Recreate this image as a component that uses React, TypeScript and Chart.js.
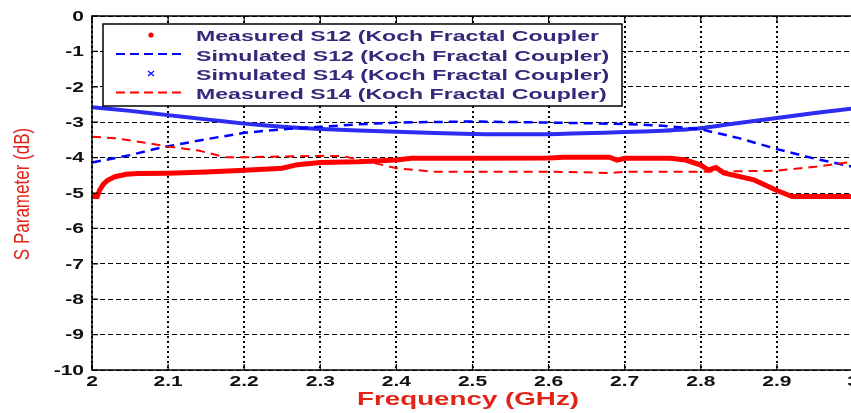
import React, { useEffect, useRef } from 'react';
import { Chart, registerables } from 'chart.js';

Chart.register(...registerables);

// ---------- data ----------
const xTicks = [2, 2.1, 2.2, 2.3, 2.4, 2.5, 2.6, 2.7, 2.8, 2.9, 3];
const xTickLabels = ['2', '2.1', '2.2', '2.3', '2.4', '2.5', '2.6', '2.7', '2.8', '2.9', '3'];
const yTicks = [0, -1, -2, -3, -4, -5, -6, -7, -8, -9, -10];
const yTickLabels = ['0', '-1', '-2', '-3', '-4', '-5', '-6', '-7', '-8', '-9', '-10'];

const measS12Freq = [2.0, 2.007, 2.01, 2.015, 2.02, 2.03, 2.045, 2.06, 2.1, 2.15, 2.2, 2.25, 2.27, 2.3, 2.35, 2.4, 2.42, 2.5, 2.6, 2.62, 2.68, 2.69, 2.7, 2.76, 2.78, 2.8, 2.81, 2.82, 2.83, 2.87, 2.9, 2.92, 3.0];
const measS12Db = [-5.1, -5.1, -4.92, -4.75, -4.65, -4.54, -4.47, -4.45, -4.44, -4.41, -4.36, -4.3, -4.2, -4.14, -4.12, -4.07, -4.02, -4.02, -4.01, -3.99, -3.99, -4.07, -4.02, -4.02, -4.07, -4.21, -4.35, -4.28, -4.43, -4.63, -4.93, -5.1, -5.1];

const simS12Freq = [2.0, 2.05, 2.09, 2.15, 2.2, 2.25, 2.3, 2.35, 2.4, 2.5, 2.6, 2.7, 2.75, 2.8, 2.85, 2.9, 2.95, 3.0];
const simS12Db = [-4.14, -3.93, -3.72, -3.48, -3.3, -3.2, -3.13, -3.06, -3.01, -2.98, -3.01, -3.05, -3.1, -3.2, -3.45, -3.76, -4.03, -4.26];

const simS14Freq = [2.0, 2.05, 2.1, 2.15, 2.2, 2.25, 2.3, 2.4, 2.5, 2.6, 2.7, 2.75, 2.8, 2.85, 2.9, 2.95, 3.0];
const simS14Db = [-2.58, -2.68, -2.8, -2.92, -3.04, -3.13, -3.19, -3.27, -3.33, -3.34, -3.28, -3.24, -3.17, -3.02, -2.88, -2.74, -2.61];

const measS14Freq = [2.0, 2.03, 2.07, 2.1, 2.14, 2.175, 2.2, 2.25, 2.3, 2.33, 2.37, 2.4, 2.45, 2.6, 2.66, 2.68, 2.7, 2.8, 2.9, 2.95, 3.0];
const measS14Db = [-3.41, -3.45, -3.58, -3.69, -3.8, -3.99, -3.99, -3.97, -3.95, -3.96, -4.15, -4.3, -4.4, -4.4, -4.42, -4.44, -4.4, -4.4, -4.37, -4.26, -4.12];

const legendLabels = [
  'Measured S12 (Koch Fractal Coupler',
  'Simulated S12 (Koch Fractal Coupler)',
  'Simulated S14 (Koch Fractal Coupler)',
  'Measured S14 (Koch Fractal Coupler)',
];

const xTitle = 'Frequency (GHz)';
const yTitle = 'S Parameter (dB)';

// ---------- style ----------
const FONT = '"Liberation Sans", Arial, Helvetica, sans-serif';
const RED = '#ff0000';
const BLUE = '#0000ff';
const CANVAS_W = 900;
const CANVAS_H = 413;

const toPts = (xs: number[], ys: number[]) => xs.map((x, i) => ({ x, y: ys[i] }));

function drawStretched(
  ctx: CanvasRenderingContext2D,
  text: string,
  x: number,
  y: number,
  sx: number,
  align: CanvasTextAlign
) {
  ctx.save();
  ctx.translate(x, y);
  ctx.scale(sx, 1);
  ctx.textAlign = align;
  ctx.textBaseline = 'middle';
  ctx.fillText(text, 0, 0);
  ctx.restore();
}

const decorPlugin = {
  id: 'decor',
  afterDraw(chart: any) {
    const ctx: CanvasRenderingContext2D = chart.ctx;
    const { left, right, top, bottom } = chart.chartArea;
    const xs = chart.scales.x;
    const ys = chart.scales.y;
    ctx.save();

    // frame
    ctx.setLineDash([]);
    ctx.strokeStyle = '#000';
    ctx.lineWidth = 1.5;
    ctx.strokeRect(left, top, right - left, bottom - top);

    // inward ticks
    ctx.lineWidth = 1.2;
    ctx.beginPath();
    xTicks.forEach((v) => {
      const px = xs.getPixelForValue(v);
      ctx.moveTo(px, bottom);
      ctx.lineTo(px, bottom - 6);
      ctx.moveTo(px, top);
      ctx.lineTo(px, top + 6);
    });
    yTicks.forEach((v) => {
      const py = ys.getPixelForValue(v);
      ctx.moveTo(left, py);
      ctx.lineTo(left + 6, py);
    });
    ctx.stroke();

    // tick labels
    ctx.fillStyle = '#111';
    ctx.font = `bold 14px ${FONT}`;
    xTicks.forEach((v, i) => {
      drawStretched(ctx, xTickLabels[i], xs.getPixelForValue(v), bottom + 12, 1.5, 'center');
    });
    yTicks.forEach((v, i) => {
      drawStretched(ctx, yTickLabels[i], left - 8, ys.getPixelForValue(v) + 1, 1.5, 'right');
    });

    // x title
    ctx.fillStyle = '#e02418';
    ctx.font = `bold 18px ${FONT}`;
    const xtw = ctx.measureText(xTitle).width;
    drawStretched(ctx, xTitle, 468, 400, 222 / xtw, 'center');

    // y title (rotated)
    ctx.font = `17px ${FONT}`;
    ctx.save();
    ctx.translate(23, 194);
    ctx.rotate(-Math.PI / 2);
    ctx.scale(1, 1.35);
    ctx.textAlign = 'center';
    ctx.textBaseline = 'middle';
    ctx.fillText(yTitle, 0, 0);
    ctx.restore();

    // legend
    const bx = 103, by = 24, bw = 519, bh = 82;
    ctx.fillStyle = '#fff';
    ctx.fillRect(bx, by, bw, bh);
    ctx.strokeStyle = '#000';
    ctx.lineWidth = 1.5;
    ctx.strokeRect(bx, by, bw, bh);

    const symY = [35, 54, 73.5, 92.5];
    const txtY = [37, 57.5, 76, 95.5];
    // red dot
    ctx.fillStyle = RED;
    ctx.beginPath();
    ctx.arc(151, symY[0], 2.6, 0, Math.PI * 2);
    ctx.fill();
    // blue dashed
    ctx.strokeStyle = BLUE;
    ctx.lineWidth = 2;
    ctx.setLineDash([9, 5]);
    ctx.beginPath();
    ctx.moveTo(116, symY[1]);
    ctx.lineTo(183, symY[1]);
    ctx.stroke();
    // blue x
    ctx.setLineDash([]);
    ctx.lineWidth = 1.2;
    ctx.beginPath();
    ctx.moveTo(148, symY[2] - 2.5);
    ctx.lineTo(154, symY[2] + 2.5);
    ctx.moveTo(154, symY[2] - 2.5);
    ctx.lineTo(148, symY[2] + 2.5);
    ctx.stroke();
    // red dashed
    ctx.strokeStyle = RED;
    ctx.lineWidth = 2;
    ctx.setLineDash([9, 5]);
    ctx.beginPath();
    ctx.moveTo(116, symY[3]);
    ctx.lineTo(183, symY[3]);
    ctx.stroke();
    ctx.setLineDash([]);

    ctx.fillStyle = '#33297a';
    ctx.font = `bold 14px ${FONT}`;
    const lw = ctx.measureText(legendLabels[0]).width;
    const lsx = 403 / lw;
    legendLabels.forEach((t, i) => {
      drawStretched(ctx, t, 196, txtY[i], lsx, 'left');
    });

    ctx.restore();
  },
};

export default function App() {
  const ref = useRef<HTMLCanvasElement | null>(null);

  useEffect(() => {
    if (!ref.current) return;
    const chart = new Chart(ref.current, {
      type: 'line',
      data: {
        datasets: [
          {
            label: legendLabels[3],
            data: toPts(measS14Freq, measS14Db),
            borderColor: RED,
            borderWidth: 2,
            borderDash: [9, 6],
            pointRadius: 0,
            fill: false,
            tension: 0,
          },
          {
            label: legendLabels[1],
            data: toPts(simS12Freq, simS12Db),
            borderColor: BLUE,
            borderWidth: 2.5,
            borderDash: [9, 6],
            pointRadius: 0,
            fill: false,
            tension: 0,
          },
          {
            label: legendLabels[2],
            data: toPts(simS14Freq, simS14Db),
            borderColor: '#2d2df2',
            borderWidth: 4,
            pointRadius: 0,
            fill: false,
            tension: 0.2,
          },
          {
            label: legendLabels[0],
            data: toPts(measS12Freq, measS12Db),
            borderColor: RED,
            borderWidth: 5,
            pointRadius: 0,
            fill: false,
            tension: 0,
          },
        ],
      },
      options: {
        responsive: false,
        animation: false,
        devicePixelRatio: 1,
        layout: { padding: { left: 0, right: CANVAS_W - 853, top: 16, bottom: 0 } },
        plugins: { legend: { display: false }, tooltip: { enabled: false } },
        scales: {
          x: {
            type: 'linear',
            min: 2,
            max: 3,
            afterBuildTicks: (s: any) => {
              s.ticks = xTicks.map((v) => ({ value: v }));
            },
            afterFit: (s: any) => {
              s.height = 43;
            },
            ticks: { display: false },
            grid: { color: '#000', lineWidth: 2, drawTicks: false },
            border: { display: false, dash: [2, 3] },
          },
          y: {
            type: 'linear',
            min: -10,
            max: 0,
            afterBuildTicks: (s: any) => {
              s.ticks = yTicks.map((v) => ({ value: v }));
            },
            afterFit: (s: any) => {
              s.width = 92;
            },
            ticks: { display: false },
            grid: { color: '#000', lineWidth: 1, drawTicks: false },
            border: { display: false, dash: [5, 3] },
          },
        },
      } as any,
      plugins: [decorPlugin],
    });
    return () => chart.destroy();
  }, []);

  return (
    <div
      style={{
        position: 'fixed',
        left: 0,
        top: 0,
        width: 851,
        height: 413,
        overflow: 'hidden',
        background: '#fff',
      }}
    >
      <canvas
        ref={ref}
        width={CANVAS_W}
        height={CANVAS_H}
        style={{ width: CANVAS_W, height: CANVAS_H, display: 'block' }}
      />
    </div>
  );
}
